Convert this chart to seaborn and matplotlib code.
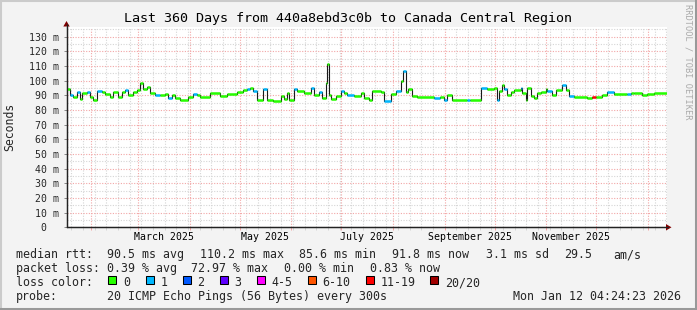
import numpy as np
import pandas as pd
import matplotlib
matplotlib.use("Agg")
import matplotlib.pyplot as plt
import matplotlib.dates as mdates
import matplotlib.transforms as mtrans
from matplotlib.patches import Rectangle, Polygon
from matplotlib.lines import Line2D
import seaborn as sns

# ---------------- data ----------------
START = pd.Timestamp("2025-01-17 04:24:23")
END = pd.Timestamp("2026-01-12 04:24:23")

step_day = [0, 2, 4, 6, 8, 9, 12, 14, 16, 18, 21, 23, 26, 28, 31, 33, 35, 37, 40, 42,
            44, 46, 48, 50, 53, 56, 59, 61, 63, 65, 68, 73, 76, 78, 80, 86, 92, 96, 102, 106,
            108, 110, 112, 114, 118, 120, 124, 128.5, 130.5, 132.5, 133.5, 136.5, 138.5, 142.5,
            146.5, 148.5, 151.5, 153.5, 155.5, 156, 157.5, 158.5, 161.5, 164.5, 166.5, 168.5,
            172.5, 176.5, 178.5, 181.5, 183.5, 188.5, 190.5, 194.5, 197.5, 200.5, 202, 203.5,
            205, 207.5, 210.5, 220.5, 224, 226.5, 228.5, 231.5, 240, 242, 248.5, 252.5, 256.5,
            258.5, 259.5, 261.5, 262.5, 264.5, 266.5, 268.5, 272.5, 273.5, 275.5, 276.5, 278.5,
            280.5, 282.5, 284.5, 287.5, 288.5, 291.5, 293.5, 297.5, 299.5, 301.5, 304.5, 312.5,
            315.5, 317.5, 321.5, 324.5, 328.5, 336.5, 338.5, 340.5, 345.5, 348.5, 352.5]
median_ms = [94.5, 90.5, 89.0, 92.0, 87.5, 91.5, 92.0, 89.0, 87.0, 92.7, 92.5, 91.0, 89.0, 92.0,
             89.0, 92.3, 93.4, 90.5, 92.0, 93.4, 98.0, 94.0, 95.7, 91.6, 90.5, 90.5, 91.0, 88.0,
             90.0, 88.0, 87.0, 89.0, 91.0, 90.0, 89.0, 91.6, 89.8, 91.0, 92.0, 93.5, 94.3, 95.0,
             93.0, 86.6, 94.0, 86.6, 86.0, 89.3, 87.5, 91.6, 86.6, 94.3, 92.7, 91.6, 95.0, 90.5,
             92.0, 88.0, 98.4, 111.5, 90.5, 87.5, 89.3, 92.7, 91.6, 90.5, 89.3, 91.6, 88.0, 87.0,
             92.7, 92.0, 86.0, 91.0, 92.7, 99.5, 106.4, 92.0, 94.3, 89.3, 88.9, 87.8, 88.5, 87.0,
             90.5, 86.6, 86.6, 86.6, 95.0, 94.3, 95.0, 87.0, 92.7, 97.3, 94.3, 90.5, 92.0, 93.9,
             95.0, 91.6, 87.0, 95.0, 89.3, 88.0, 91.6, 92.0, 94.3, 92.7, 90.5, 93.9, 97.3, 93.9,
             89.3, 88.6, 88.0, 88.6, 88.6, 90.5, 92.0, 91.0, 91.0, 91.3, 91.6, 90.5, 91.0, 91.6]
lost_pings = [0, 1, 0, 1, 0, 0, 1, 0, 0, 1, 0, 0, 0, 0, 0, 0, 1, 0, 0, 0,
              0, 0, 0, 0, 1, 0, 0, 1, 0, 0, 0, 0, 1, 0, 0, 0, 0, 0, 0, 0,
              1, 0, 1, 0, 1, 0, 0, 0, 0, 0, 0, 1, 0, 0, 1, 0, 1, 0, 0, 0,
              0, 0, 0, 1, 0, 1, 0, 0, 0, 0, 0, 0, 1, 0, 1, 0, 1, 0, 0, 0,
              0, 1, 0, 1, 0, 0, 1, 0, 1, 0, 0, 1, 0, 0, 1, 0, 0, 0, 1, 0,
              0, 0, 0, 0, 0, 0, 0, 1, 0, 0, 1, 0, 1, 0, 0, 12, 0, 0, 1, 0,
              1, 0, 0, 0, 0, 0]

loss_labels = ["0", "1", "2", "3", "4-5", "6-10", "11-19", "20/20"]
loss_colors = ["#26ff00", "#00b8ff", "#0059ff", "#5e00ff", "#ff00ff", "#ff5500", "#ff0000", "#a10000"]
loss_upper = [0, 1, 2, 3, 5, 10, 19, 20]

y_ticks = [0, 10, 20, 30, 40, 50, 60, 70, 80, 90, 100, 110, 120, 130]
month_labels = ["March 2025", "May 2025", "July 2025", "September 2025", "November 2025"]
month_label_dates = ["2025-03-16 12:00", "2025-05-16 12:00", "2025-07-16 12:00",
                     "2025-09-16", "2025-11-16"]

title = "Last 360 Days from 440a8ebd3c0b to Canada Central Region"
legend_rows = [
    [("median rtt:", 16), ("90.5 ms avg", 107), ("110.2 ms max", 200), ("85.6 ms min", 299),
     ("91.8 ms now", 392), ("3.1 ms sd", 486), ("29.5", 564), ("am/s", 613)],
    [("packet loss:", 16), ("0.39 % avg", 107), ("72.97 % max", 191), ("0.00 % min", 284),
     ("0.83 % now", 370)],
    [("loss color:", 16)],
    [("probe:", 16), ("20 ICMP Echo Pings (56 Bytes) every 300s", 107)],
]
stamp = "Mon Jan 12 04:24:23 2026"

# ---------------- figure ----------------
sns.set_theme(style="white")
plt.rcParams["font.family"] = ["DejaVu Sans Mono"]

W, H = 697, 310
BACK = "#f3f3f3"
fig = plt.figure(figsize=(W / 100, H / 100), dpi=100, facecolor=BACK)

def fx(px):
    return px / W

def fy(py):
    return 1 - py / H

x0, x1, ytop, ybot = 66.5, 666.5, 27.0, 227.3
ax = fig.add_axes([fx(x0), fy(ybot), fx(x1) - fx(x0), fy(ytop) - fy(ybot)])
ax.set_facecolor("white")

df = pd.DataFrame({"day": step_day, "median": median_ms, "loss": lost_pings})
df["date"] = START + pd.to_timedelta(df["day"], unit="D")
df["end"] = list(df["date"].iloc[1:]) + [END]

def loss_color(n):
    for up, c in zip(loss_upper, loss_colors):
        if n <= up:
            return c
    return loss_colors[-1]

df["color"] = [loss_color(n) for n in df["loss"]]

# black step line (connecting verticals)
line_df = pd.concat([df[["date", "median"]],
                     pd.DataFrame({"date": [END], "median": [df["median"].iloc[-1]]})])
sns.lineplot(data=line_df, x="date", y="median", drawstyle="steps-post", color="#1a1a1a",
             lw=0.8, ax=ax, zorder=4)
# coloured median segments by loss
ax.hlines(df["median"], df["date"], df["end"], colors=df["color"], lw=1.8, zorder=5,
          capstyle="butt")

ax.set_xlim(START, END)
ax.set_ylim(0, 136.5)

MGRID = "#f2a6a6"
GRID = "#d5d5d5"
dots = (0, (1, 1.4))

ax.set_yticks(y_ticks)
ax.set_yticks(np.arange(5, 136, 10), minor=True)
ax.set_yticklabels([("%d m" % v) if v else "0" for v in y_ticks])
ax.xaxis.set_major_locator(mdates.MonthLocator())
ax.xaxis.set_minor_locator(mdates.WeekdayLocator(byweekday=mdates.MO))
ax.xaxis.set_major_formatter(plt.NullFormatter())

ax.grid(True, which="major", color=MGRID, ls=dots, lw=0.8)
ax.grid(True, which="minor", color=GRID, ls=dots, lw=0.8)
ax.set_axisbelow(True)

ax.tick_params(axis="y", which="major", length=2.2, width=0.7, color="#888888",
               labelsize=7.1, pad=3.2, direction="out", left=True)
ax.tick_params(axis="y", which="minor", length=0)
ax.tick_params(axis="x", which="major", length=2, width=0.7, color=MGRID, direction="out",
               bottom=True)
ax.tick_params(axis="x", which="minor", length=2, width=0.7, color=GRID, direction="out",
               bottom=True)
ax.set_xlabel("")
ax.set_ylabel("")

# the zero label sits two character cells further left (no unit suffix)
shift = mtrans.ScaledTranslation(-12.5 / 100, 0, fig.dpi_scale_trans)
for lab in ax.get_yticklabels():
    if lab.get_text() == "0":
        lab.set_transform(lab.get_transform() + shift)

for s in ["top", "right"]:
    ax.spines[s].set_visible(False)
for s in ["left", "bottom"]:
    ax.spines[s].set_color("#222222")
    ax.spines[s].set_linewidth(0.9)

# axis extensions and arrows
ARROW = "#7f0000"
fig.add_artist(Line2D([fx(x0), fx(x0)], [fy(ybot), fy(24)], color="#222222", lw=0.9))
fig.add_artist(Line2D([fx(x0), fx(668)], [fy(ybot), fy(ybot)], color="#222222", lw=0.9))
fig.add_artist(Polygon([[fx(x0 - 3.2), fy(26.5)], [fx(x0 + 3.2), fy(26.5)], [fx(x0), fy(21)]],
                       closed=True, color=ARROW, lw=0))
fig.add_artist(Polygon([[fx(666), fy(ybot - 3.2)], [fx(666), fy(ybot + 3.2)],
                        [fx(671.5), fy(ybot)]], closed=True, color=ARROW, lw=0))

# month labels
btr = mtrans.blended_transform_factory(ax.transData, fig.transFigure)
for lab, d in zip(month_labels, month_label_dates):
    ax.text(pd.Timestamp(d), fy(237.5), lab, transform=btr, ha="center", va="center",
            fontsize=7.1, color="black")

# title, y label, watermark
fig.text(fx(348), fy(18.5), title, ha="center", va="center", fontsize=9.6, color="black")
fig.text(fx(10), fy(127), "Seconds", rotation=90, ha="center", va="center", fontsize=8.3)
fig.text(fx(688), fy(4), "RRDTOOL / TOBI OETIKER", rotation=270, ha="center", va="top",
         fontsize=6.2, color="#aaaaaa")

# legend rows
row_y = [254.5, 268.5, 282.5, 296.5]
for row, yy in zip(legend_rows, row_y):
    for txt, xx in row:
        fig.text(fx(xx), fy(yy), txt, ha="left", va="center", fontsize=8.37)
box_x = [108, 145.5, 182.5, 219.5, 256.5, 307.5, 365.5, 430]
for bx, lab, col in zip(box_x, loss_labels, loss_colors):
    fig.add_artist(Rectangle((fx(bx), fy(283.5)), fx(8), 8 / H, facecolor=col,
                             edgecolor="black", lw=0.75))
    fig.text(fx(bx + 15), fy(282.5), lab, ha="left", va="center", fontsize=8.37)
fig.text(fx(681), fy(296.5), stamp, ha="right", va="center", fontsize=8.37)

# 3D-ish frame
fig.add_artist(Line2D([0, 1], [fy(1), fy(1)], color="#cbcbcb", lw=1.5))
fig.add_artist(Line2D([fx(1), fx(1)], [0, 1], color="#cbcbcb", lw=1.5))
fig.add_artist(Line2D([0, 1], [fy(308.5), fy(308.5)], color="#999999", lw=2.2))
fig.add_artist(Line2D([fx(695.5), fx(695.5)], [0, 1], color="#999999", lw=2.2))

fig.savefig("out.png", dpi=100, facecolor=BACK)
